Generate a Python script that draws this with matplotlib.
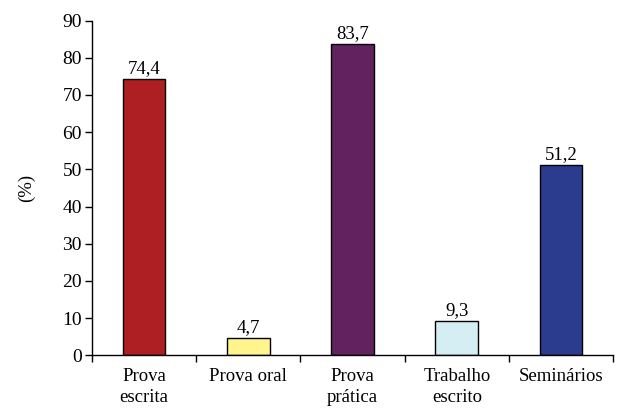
import matplotlib
matplotlib.use("Agg")
import matplotlib.pyplot as plt
import numpy as np

categories = ["Prova\nescrita", "Prova oral", "Prova\nprática", "Trabalho\nescrito", "Seminários"]
values = [74.4, 4.7, 83.7, 9.3, 51.2]
labels = ["74,4", "4,7", "83,7", "9,3", "51,2"]
colors = ["#AE1F24", "#FFF58C", "#62215F", "#D4EEF3", "#2B3B8D"]

plt.rcParams['font.family'] = ['Liberation Serif', 'DejaVu Serif']
fig = plt.figure(figsize=(6.2, 4.13), dpi=100)
ax = fig.add_axes([0.148, 0.140, 0.841, 0.810])
x = np.arange(len(categories))
ax.bar(x, values, width=0.41, color=colors, edgecolor="black", linewidth=1.0)
for xi, v, lab in zip(x, values, labels):
    ax.text(xi, v + 0.5, lab, ha="center", va="bottom", fontsize=13.5)
ax.set_xlim(-0.5, 4.5)
ax.set_ylim(0, 90)
ax.set_yticks(range(0, 91, 10))
ax.set_xticks(x)
ax.set_xticklabels(categories, fontsize=13.5, linespacing=1.3)
ax.tick_params(axis="x", which="major", length=0, pad=9)
ax.set_xticks(np.arange(-0.5, 5, 1.0), minor=True)
ax.tick_params(axis="x", which="minor", length=5, direction="out", width=1)
ax.tick_params(axis="y", length=5, direction="out", width=1, labelsize=14, pad=2)
for s in ["top", "right"]:
    ax.spines[s].set_visible(False)
ax.spines["left"].set_linewidth(1)
ax.spines["bottom"].set_linewidth(1)
ax.set_ylabel("(%)", fontsize=13.5, labelpad=20)
fig.savefig("out.png", dpi=100)
